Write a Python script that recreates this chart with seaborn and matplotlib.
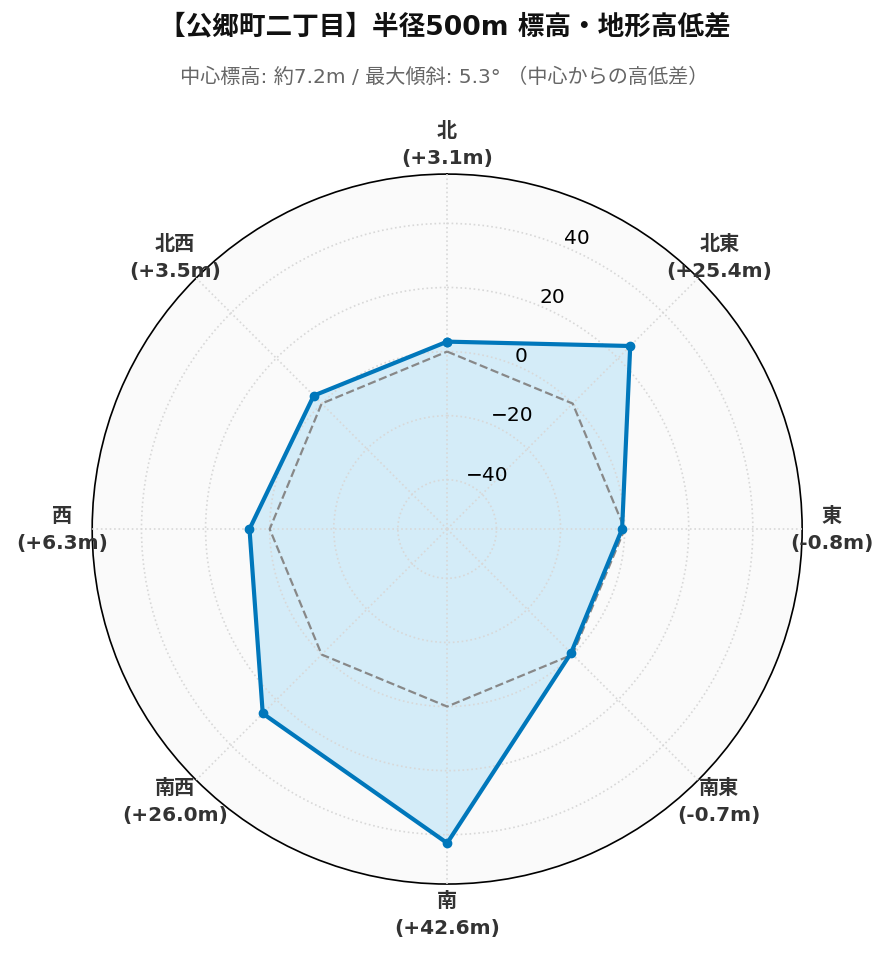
import numpy as np
import matplotlib
matplotlib.use("Agg")
import matplotlib.pyplot as plt
import seaborn as sns

sns.set_style("white")
plt.rcParams['font.family'] = ['DejaVu Sans', 'Noto Sans CJK JP']
plt.rcParams['axes.unicode_minus'] = True

# 方位ごとの高低差 (m)
directions = ["北", "北東", "東", "南東", "南", "南西", "西", "北西"]
diffs = [3.1, 25.4, -0.8, -0.7, 42.6, 26.0, 6.3, 3.5]
r_ticks = [-40, -20, 0, 20, 40]

title = "【公郷町二丁目】半径500m 標高・地形高低差"
subtitle = "中心標高: 約7.2m / 最大傾斜: 5.3° （中心からの高低差）"

n = len(directions)
angles = np.linspace(0, 2 * np.pi, n, endpoint=False)
ang_closed = np.append(angles, angles[0])
val_closed = np.append(diffs, diffs[0])
zero_closed = np.zeros_like(ang_closed)

lim = max(abs(v) for v in diffs) * 1.3

fig = plt.figure(figsize=(8.89, 9.62), dpi=100)
ax = fig.add_axes([0.1035, 0.080, 0.799, 0.738], projection='polar')
ax.set_facecolor('#fafafa')
ax.set_axisbelow(False)
ax.set_theta_zero_location('N')
ax.set_theta_direction(-1)
ax.set_ylim(-lim, lim)

ax.fill(ang_closed, val_closed, color='#d4ecf8', alpha=1.0, zorder=1)
ax.plot(ang_closed, zero_closed, color='#888888', linestyle='--', linewidth=1.6, zorder=3)
ax.plot(ang_closed, val_closed, color='#0077BB', linewidth=3, marker='o',
        markersize=6, zorder=4)

ax.set_xticks(angles)
ax.set_xticklabels([f"{d}\n({v:+.1f}m)" for d, v in zip(directions, diffs)],
                   fontsize=14.5, fontweight='bold', color='#333333', linespacing=1.55)
ax.tick_params(axis='x', pad=11)
ax.set_yticks(r_ticks)
ax.set_yticklabels([f"{t}".replace('-', '\u2212') for t in r_ticks], fontsize=14.5,
                   color='black')
ax.set_rlabel_position(22.5)
ax.grid(True, color='#d8d8d8', linestyle=':', linewidth=1.2)
ax.spines['polar'].set_color('black')
ax.spines['polar'].set_linewidth(1.2)

fig.text(0.5, 0.971, title, ha='center', va='center', fontsize=19.2, fontweight='bold',
         color='#111111')
fig.text(0.5, 0.920, subtitle, ha='center', va='center', fontsize=14.5,
         color='#666666')

fig.savefig("out.png", dpi=100)
